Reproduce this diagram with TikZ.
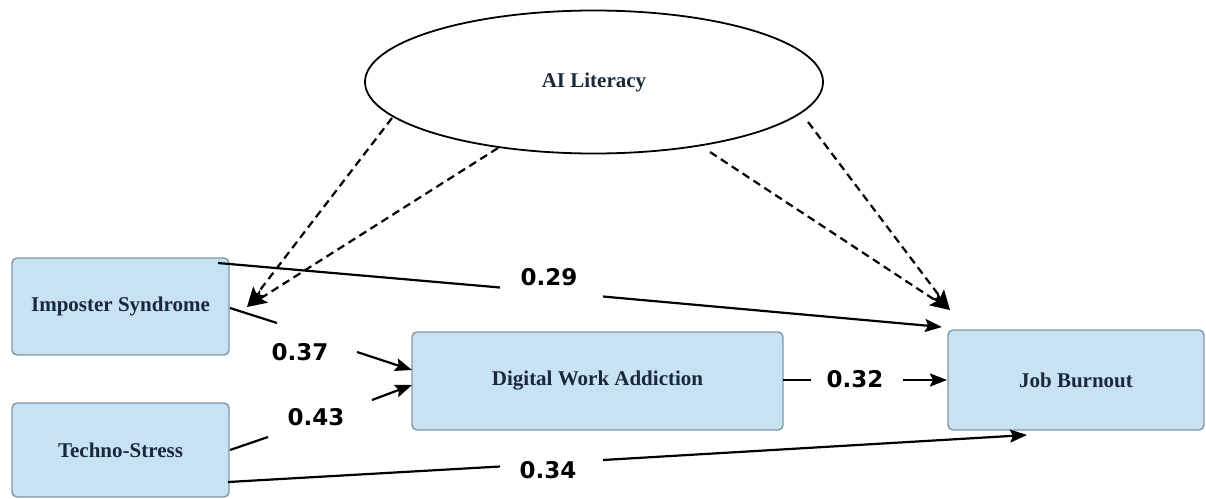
\documentclass[tikz,border=0pt]{standalone}
\usepackage{fontspec}
\setmainfont{Liberation Serif}
\newfontfamily\numfont{DejaVu Sans}
\usetikzlibrary{shapes.geometric,arrows.meta}
\definecolor{boxfill}{HTML}{C6E2F3}
\definecolor{boxline}{HTML}{7F96A8}
\definecolor{boxtext}{HTML}{1B2838}
\tikzset{
  varbox/.style={draw=boxline, fill=boxfill, line width=1.4pt, rounded corners=5pt,
    inner sep=0pt, font=\fontsize{21}{24}\selectfont\bfseries, text=boxtext},
  latent/.style={draw=black, ellipse, line width=1.8pt, inner sep=0pt,
    font=\fontsize{21}{24}\selectfont\bfseries, text=boxtext},
  coef/.style={font=\numfont\fontsize{23}{26}\selectfont\bfseries, inner sep=0pt},
  solidpath/.style={line width=2.2pt, draw=black},
  solidtip/.style={solidpath, -{Stealth[length=17pt,width=13pt,inset=3pt]}},
  modpath/.style={line width=2.2pt, draw=black, dash pattern=on 8pt off 5pt,
    -{Stealth[length=20pt,width=15pt,inset=4pt]}}
}
\begin{document}
\begin{tikzpicture}[x=1pt,y=-1pt]
\useasboundingbox (0,0) rectangle (1206,498);
% nodes
\node[latent, minimum width=458pt, minimum height=143pt] (ai) at (594,82) {AI Literacy};
\node[varbox, minimum width=217pt, minimum height=97pt] (imp) at (120.5,306.5) {Imposter Syndrome};
\node[varbox, minimum width=217pt, minimum height=94pt] (tech) at (120.5,450) {Techno-Stress};
\node[varbox, minimum width=371pt, minimum height=98pt] (dwa) at (597.5,381) {Digital Work Addiction};
\node[varbox, minimum width=256pt, minimum height=100pt] (jb) at (1076,380) {Job Burnout};
% coefficient labels
\node[coef] (l29) at (549,277) {0.29};
\node[coef] (l37) at (300,352) {0.37};
\node[coef] (l43) at (316,417) {0.43};
\node[coef] (l32) at (855,379) {0.32};
\node[coef] (l34) at (548,470) {0.34};
% break points of the paths
\coordinate (a1) at (218,263); \coordinate (a2) at (500,287.5);
\coordinate (a3) at (603,296.5); \coordinate (a4) at (942,327);
\coordinate (b1) at (230,308); \coordinate (b2) at (277,323);
\coordinate (b3) at (357,352); \coordinate (b4) at (412,370);
\coordinate (c1) at (230,450); \coordinate (c2) at (268,437);
\coordinate (c3) at (372,400); \coordinate (c4) at (412,385);
\coordinate (d1) at (783,380); \coordinate (d2) at (811,380);
\coordinate (d3) at (903,380); \coordinate (d4) at (947,380);
\coordinate (e1) at (228,482); \coordinate (e2) at (500,466.5);
\coordinate (e3) at (603,460); \coordinate (e4) at (1027,435);
% moderation start / end points
\coordinate (m1) at (392,118); \coordinate (m2) at (498,148);
\coordinate (mt1) at (247,307);
\coordinate (m3) at (808,122); \coordinate (m4) at (710,152);
\coordinate (mt2) at (950,310);
% structural paths
\draw[solidpath] (a1) -- (a2); \draw[solidtip] (a3) -- (a4);
\draw[solidpath] (b1) -- (b2); \draw[solidtip] (b3) -- (b4);
\draw[solidpath] (c1) -- (c2); \draw[solidtip] (c3) -- (c4);
\draw[solidpath] (d1) -- (d2); \draw[solidtip] (d3) -- (d4);
\draw[solidpath] (e1) -- (e2); \draw[solidtip] (e3) -- (e4);
% moderation paths
\draw[modpath] (m1) -- (mt1);
\draw[modpath] (m2) -- (mt1);
\draw[modpath] (m3) -- (mt2);
\draw[modpath] (m4) -- (mt2);
\end{tikzpicture}
\end{document}
